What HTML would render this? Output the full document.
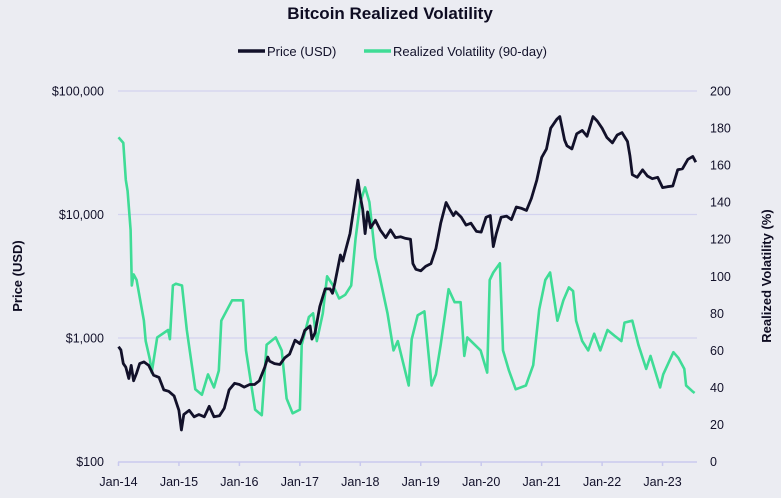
<!DOCTYPE html>
<html><head><meta charset="utf-8"><style>
html,body{margin:0;padding:0;background:#ebecf2;}
svg{display:block;font-family:"Liberation Sans",sans-serif;}
</style></head><body>
<svg id="chart" width="781" height="498" viewBox="0 0 781 498" xmlns="http://www.w3.org/2000/svg">
<rect width="781" height="498" fill="#ebecf2"/>
<text x="390" y="19" text-anchor="middle" font-size="17" font-weight="bold" fill="#0e0c22">Bitcoin Realized Volatility</text>
<g>
<g><line x1="238" y1="51" x2="265" y2="51" stroke="#12112a" stroke-width="3.5"/><text x="267" y="56" font-size="13" fill="#12112a">Price (USD)</text></g>
<g><line x1="364" y1="51" x2="391" y2="51" stroke="#3fdc96" stroke-width="3.5"/><text x="393" y="56" font-size="13" fill="#12112a">Realized Volatility (90-day)</text></g>
</g>
<g id="grid"></g>
<g id="axes"></g>
<g id="series"></g>
<text transform="translate(22,276) rotate(-90)" text-anchor="middle" font-size="13" font-weight="bold" fill="#0e0c22">Price (USD)</text>
<text transform="translate(771,276) rotate(-90)" text-anchor="middle" font-size="13" font-weight="bold" fill="#0e0c22">Realized Volatility (%)</text>
</svg>
<script>
const xTickLabels = ["Jan-14","Jan-15","Jan-16","Jan-17","Jan-18","Jan-19","Jan-20","Jan-21","Jan-22","Jan-23"];
const xTickYears = [2014,2015,2016,2017,2018,2019,2020,2021,2022,2023];
const priceTicks = [100,1000,10000,100000];
const priceTickLabels = ["$100","$1,000","$10,000","$100,000"];
const volTicks = [0,20,40,60,80,100,120,140,160,180,200];
const priceDates = [2014.0,2014.04,2014.08,2014.12,2014.17,2014.21,2014.25,2014.3,2014.35,2014.42,2014.5,2014.58,2014.67,2014.75,2014.83,2014.92,2015.0,2015.04,2015.08,2015.17,2015.25,2015.33,2015.42,2015.5,2015.58,2015.67,2015.75,2015.83,2015.92,2016.0,2016.08,2016.17,2016.25,2016.33,2016.42,2016.47,2016.5,2016.58,2016.67,2016.75,2016.83,2016.92,2017.0,2017.04,2017.08,2017.17,2017.2,2017.25,2017.33,2017.42,2017.5,2017.54,2017.58,2017.67,2017.71,2017.75,2017.83,2017.92,2017.96,2018.0,2018.04,2018.08,2018.12,2018.17,2018.25,2018.33,2018.42,2018.5,2018.58,2018.67,2018.75,2018.83,2018.87,2018.92,2019.0,2019.08,2019.17,2019.25,2019.33,2019.42,2019.48,2019.54,2019.58,2019.67,2019.75,2019.83,2019.92,2020.0,2020.08,2020.15,2020.2,2020.25,2020.33,2020.42,2020.5,2020.58,2020.67,2020.75,2020.83,2020.92,2021.0,2021.08,2021.15,2021.25,2021.3,2021.38,2021.42,2021.5,2021.58,2021.67,2021.75,2021.85,2021.92,2022.0,2022.08,2022.17,2022.25,2022.33,2022.42,2022.46,2022.5,2022.58,2022.67,2022.75,2022.83,2022.92,2023.0,2023.08,2023.17,2023.25,2023.33,2023.42,2023.5,2023.55];
const priceValues = [850,800,620,580,470,600,450,520,620,640,600,500,480,380,370,340,260,180,240,260,230,240,230,280,230,235,270,380,430,420,400,420,420,450,580,700,650,620,610,690,740,960,900,1000,1150,1250,980,1100,1800,2500,2500,2300,2800,4700,4200,5000,7000,14000,19000,14000,11000,7000,10500,7800,9000,7500,6500,7500,6500,6600,6400,6300,4000,3600,3500,3800,4000,5300,8500,12500,11000,9800,10500,9500,8200,8500,7300,7200,9500,9800,5500,7000,9500,9700,9100,11500,11200,10800,13500,19000,29000,34000,50000,59000,62000,40000,36000,34000,45000,48000,43000,62000,57000,50000,42000,38000,44000,46000,39000,30000,21000,20000,23000,20500,19500,20000,16500,16800,17000,23000,23500,28000,29500,26500,30500,29500];
const volDates = [2014.0,2014.08,2014.12,2014.15,2014.2,2014.22,2014.25,2014.3,2014.42,2014.45,2014.52,2014.55,2014.64,2014.82,2014.85,2014.9,2014.95,2015.05,2015.13,2015.27,2015.38,2015.48,2015.58,2015.66,2015.7,2015.88,2016.06,2016.11,2016.26,2016.37,2016.45,2016.6,2016.7,2016.78,2016.88,2017.0,2017.03,2017.15,2017.22,2017.28,2017.38,2017.45,2017.55,2017.65,2017.75,2017.85,2017.92,2018.0,2018.08,2018.15,2018.25,2018.32,2018.45,2018.55,2018.62,2018.8,2018.85,2018.95,2019.06,2019.18,2019.25,2019.33,2019.46,2019.56,2019.66,2019.72,2019.77,2019.99,2020.1,2020.14,2020.2,2020.31,2020.36,2020.46,2020.57,2020.74,2020.86,2020.96,2021.06,2021.14,2021.26,2021.36,2021.45,2021.52,2021.57,2021.67,2021.77,2021.87,2021.97,2022.09,2022.2,2022.32,2022.37,2022.5,2022.6,2022.73,2022.8,2022.96,2023.01,2023.18,2023.26,2023.36,2023.39,2023.49,2023.53];
const volValues = [175,172,152,146,125,95,101,98,76,65,55,48,67,71,66,95,96,95,71,39,36,47,40,49,76,87,87,60,28,25,63,67,60,34,26,28,63,78,80,65,80,100,95,88,90,95,120,140,148,140,110,100,80,60,65,41,66,79,81,41,47,63,93,86,86,57,67,60,48,98,102,107,60,49,39,41,52,82,98,102,76,87,94,92,76,65,60,69,60,71,68,65,75,76,63,50,57,40,47,59,56,50,41,38,37];

const X0=118.5, PX=60.45, YTOP=91, YBOT=461.5;
function xs(t){return X0+(t-2014)*PX;}
function yPrice(v){return YBOT-(Math.log10(v)-2)*(YBOT-YTOP)/3;}
function yVol(v){return YBOT-v*(YBOT-YTOP)/200;}
const NS="http://www.w3.org/2000/svg";
function mk(tag,attrs,parent){const e=document.createElementNS(NS,tag);for(const k in attrs)e.setAttribute(k,attrs[k]);parent.appendChild(e);return e;}
const grid=document.getElementById('grid'), axes=document.getElementById('axes'), series=document.getElementById('series');
priceTicks.forEach((p,i)=>{
  const y=yPrice(p);
  if(i>0){const g=mk('line',{x1:118,x2:697,y1:y,y2:y,stroke:'#d3d3ef','stroke-width':1.2},grid);
  
  }
  const t=mk('text',{x:104,y:y+4.5,'text-anchor':'end','font-size':12.5,fill:'#12112a'},axes);
  t.textContent=priceTickLabels[i];
  
  
});
volTicks.forEach(v=>{
  const t=mk('text',{x:710,y:yVol(v)+4.5,'font-size':12.5,fill:'#12112a'},axes);
  t.textContent=v;
  
  
});
const base=mk('line',{x1:118,x2:697,y1:462,y2:462,stroke:'#c9c9ee','stroke-width':1.5},axes);


xTickYears.forEach((yr,i)=>{
  const x=xs(yr);
  const tk=mk('line',{x1:x,x2:x,y1:462,y2:466,stroke:'#c9c9ee','stroke-width':1.5},axes);
  
  
  const t=mk('text',{x:x,y:486,'text-anchor':'middle','font-size':12.5,fill:'#12112a'},axes);
  t.textContent=xTickLabels[i];
  
  
});
const vp=mk('polyline',{points:volDates.map((d,i)=>xs(d).toFixed(1)+','+yVol(volValues[i]).toFixed(1)).join(' '),fill:'none',stroke:'#3fdc96','stroke-width':2.6,'stroke-linejoin':'round'},series);


const pp=mk('polyline',{points:priceDates.map((d,i)=>xs(d).toFixed(1)+','+yPrice(priceValues[i]).toFixed(1)).join(' '),fill:'none',stroke:'#12112a','stroke-width':2.8,'stroke-linejoin':'round'},series);


</script>
</body></html>
